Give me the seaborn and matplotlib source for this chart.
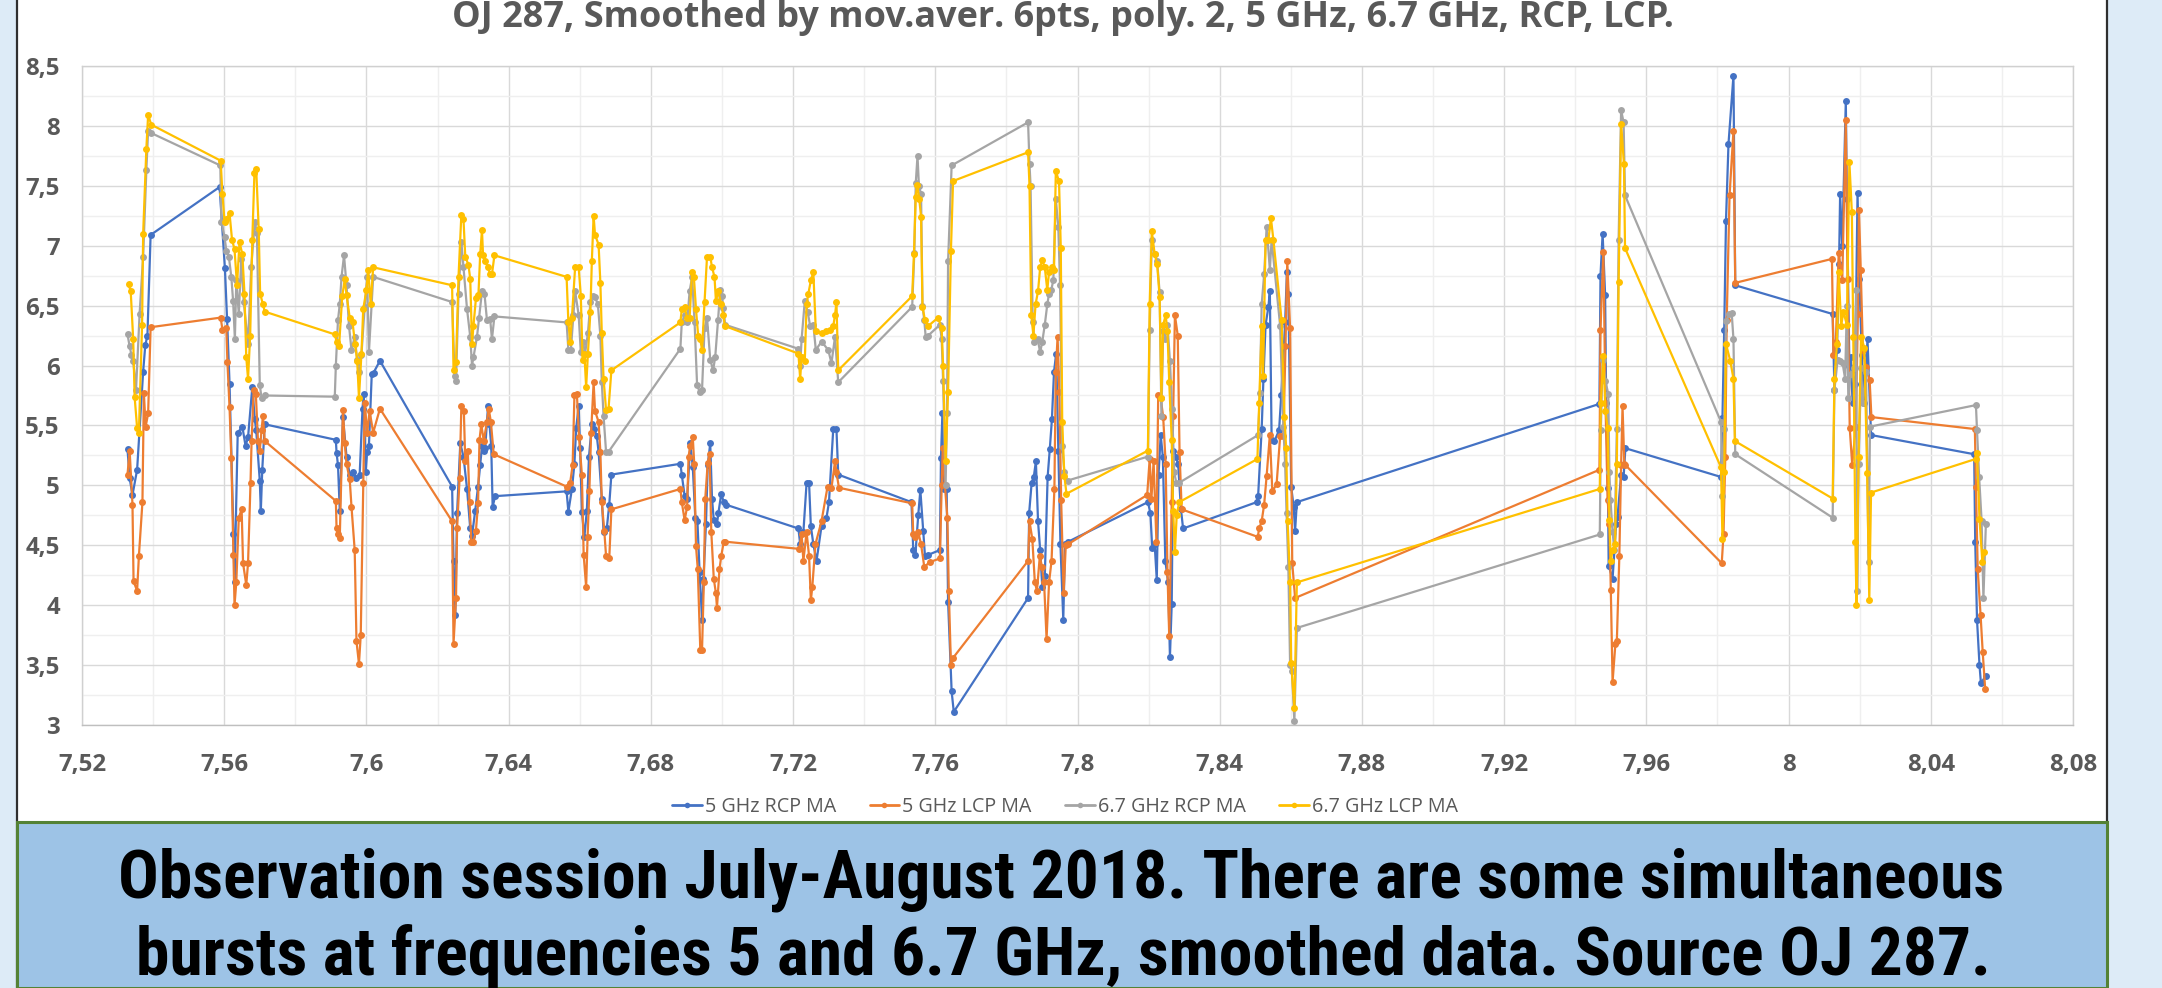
import matplotlib
matplotlib.use("Agg")
import matplotlib.pyplot as plt
import seaborn as sns
import pandas as pd
from matplotlib import font_manager
from matplotlib.font_manager import FontProperties
from matplotlib.lines import Line2D
from matplotlib.patches import Rectangle

# ---------------- data ----------------
series_names = ["5 GHz RCP MA", "5 GHz LCP MA", "6.7 GHz RCP MA", "6.7 GHz LCP MA"]
series_colors = ["#4472C4", "#ED7D31", "#A5A5A5", "#FFC000"]

rcp5_x = [7.5328, 7.5334, 7.5342, 7.5355, 7.5372, 7.5378, 7.5384, 7.5393,
          7.5587, 7.5602, 7.5608, 7.5615, 7.5626, 7.5629, 7.5638, 7.5651, 7.5660, 7.5667, 7.5679, 7.5686, 7.5690, 7.5700, 7.5703, 7.5707, 7.5714,
          7.5914, 7.5916, 7.5920, 7.5925, 7.5934, 7.5944, 7.5953, 7.5963, 7.5972, 7.5981, 7.5989, 7.5992, 7.5998, 7.6002, 7.6007, 7.6015, 7.6020, 7.6038,
          7.6241, 7.6245, 7.6250, 7.6255, 7.6264, 7.6273, 7.6283, 7.6292, 7.6297, 7.6306, 7.6314, 7.6320, 7.6325, 7.6330, 7.6334, 7.6342, 7.6346, 7.6351, 7.6355, 7.6362,
          7.6563, 7.6568, 7.6578, 7.6585, 7.6590, 7.6597, 7.6601, 7.6606, 7.6613, 7.6620, 7.6626, 7.6634, 7.6641, 7.6648, 7.6653, 7.6662, 7.6667, 7.6676, 7.6683, 7.6689,
          7.6883, 7.6887, 7.6895, 7.6902, 7.6911, 7.6918, 7.6925, 7.6931, 7.6937, 7.6944, 7.6948, 7.6955, 7.6960, 7.6967, 7.6972, 7.6977, 7.6986, 7.6990, 7.6998, 7.7005, 7.7010,
          7.7215, 7.7220, 7.7229, 7.7238, 7.7245, 7.7250, 7.7257, 7.7266, 7.7280, 7.7294, 7.7301, 7.7313, 7.7322, 7.7327,
          7.7533, 7.7538, 7.7544, 7.7552, 7.7558, 7.7566, 7.7571, 7.7580, 7.7613, 7.7616, 7.7620, 7.7625, 7.7632, 7.7636, 7.7646, 7.7652,
          7.7861, 7.7864, 7.7871, 7.7877, 7.7883, 7.7889, 7.7895, 7.7901, 7.7908, 7.7916, 7.7922, 7.7928, 7.7934, 7.7940, 7.7946, 7.7952, 7.7960, 7.7965, 7.7974,
          7.8198, 7.8205, 7.8210, 7.8217, 7.8223, 7.8228, 7.8234, 7.8240, 7.8247, 7.8255, 7.8260, 7.8265, 7.8269, 7.8276, 7.8283, 7.8291, 7.8297,
          7.8504, 7.8508, 7.8518, 7.8523, 7.8529, 7.8537, 7.8541, 7.8546, 7.8554, 7.8567, 7.8573, 7.8584, 7.8589, 7.8593, 7.8601, 7.8608, 7.8612, 7.8617,
          7.9468, 7.9471, 7.9477, 7.9484, 7.9487, 7.9492, 7.9494, 7.9505, 7.9515, 7.9519, 7.9529, 7.9536, 7.9541,
          7.9810, 7.9814, 7.9819, 7.9824, 7.9831, 7.9845, 7.9850,
          8.0124, 8.0129, 8.0136, 8.0142, 8.0145, 8.0151, 8.0161, 8.0164, 8.0171, 8.0175, 8.0180, 8.0187, 8.0194, 8.0199, 8.0206, 8.0213, 8.0222, 8.0232,
          8.0522, 8.0525, 8.0530, 8.0537, 8.0541, 8.0555]
rcp5_y = [5.30, 5.06, 4.92, 5.13, 5.95, 6.17, 6.25, 7.09,
          7.49, 6.81, 6.39, 5.85, 4.59, 4.19, 5.44, 5.49, 5.33, 5.40, 5.82, 5.55, 5.46, 5.04, 4.79, 5.13, 5.51,
          5.38, 5.27, 5.17, 4.79, 5.57, 5.24, 5.09, 5.11, 5.06, 5.09, 5.64, 5.76, 5.11, 5.28, 5.33, 5.93, 5.94, 6.04,
          4.99, 4.37, 3.92, 4.77, 5.35, 5.24, 4.97, 4.64, 4.58, 4.79, 4.99, 5.17, 5.33, 5.29, 5.31, 5.66, 5.51, 5.33, 4.82, 4.91,
          4.95, 4.78, 4.97, 5.18, 5.48, 5.66, 5.31, 4.78, 4.57, 4.79, 5.24, 5.51, 5.47, 5.41, 5.28, 4.89, 4.61, 4.64, 4.84, 5.09,
          5.18, 5.09, 4.91, 4.89, 5.35, 5.15, 4.73, 4.70, 4.28, 3.88, 4.22, 4.68, 5.17, 5.35, 4.89, 4.71, 4.68, 4.77, 4.93, 4.86, 4.84,
          4.64, 4.51, 4.61, 5.02, 5.02, 4.66, 4.51, 4.37, 4.66, 4.73, 4.86, 5.47, 5.47, 5.09,
          4.86, 4.46, 4.42, 4.75, 4.96, 4.62, 4.41, 4.42, 4.46, 5.23, 5.60, 4.97, 4.97, 4.03, 3.28, 3.11,
          4.06, 4.77, 5.02, 5.07, 5.20, 4.70, 4.46, 4.15, 4.24, 5.07, 5.30, 5.55, 5.95, 6.10, 5.29, 4.51, 3.88, 4.51, 4.53,
          4.86, 4.77, 4.48, 4.51, 4.21, 5.09, 5.42, 5.24, 4.37, 4.19, 3.57, 4.01, 5.29, 5.24, 5.18, 4.80, 4.64,
          4.86, 4.91, 5.47, 5.89, 6.34, 6.49, 6.62, 5.38, 5.37, 5.46, 5.75, 6.36, 6.78, 6.60, 4.99, 4.82, 4.62, 4.86,
          5.68, 6.75, 7.10, 6.59, 5.69, 4.98, 4.33, 4.22, 4.68, 4.74, 5.09, 5.07, 5.31,
          5.07, 5.56, 6.30, 7.21, 7.85, 8.42, 6.67,
          6.43, 5.80, 6.13, 6.85, 7.43, 7.00, 8.21, 7.39, 6.00, 6.07, 5.69, 5.85, 7.44, 6.72, 6.09, 5.69, 6.22, 5.42,
          5.26, 4.53, 3.88, 3.50, 3.35, 3.41]

lcp5_x = [7.5328, 7.5334, 7.5342, 7.5345, 7.5355, 7.5360, 7.5370, 7.5374, 7.5379, 7.5386, 7.5393,
          7.5590, 7.5595, 7.5606, 7.5609, 7.5615, 7.5620, 7.5626, 7.5629, 7.5634, 7.5641, 7.5649, 7.5653, 7.5662, 7.5667, 7.5674, 7.5677, 7.5683, 7.5689, 7.5695, 7.5700, 7.5705, 7.5709, 7.5714,
          7.5914, 7.5916, 7.5920, 7.5925, 7.5934, 7.5939, 7.5944, 7.5953, 7.5958, 7.5967, 7.5972, 7.5979, 7.5984, 7.5991, 7.5995, 7.6002, 7.6009, 7.6019, 7.6038,
          7.6241, 7.6245, 7.6252, 7.6255, 7.6262, 7.6267, 7.6274, 7.6278, 7.6285, 7.6290, 7.6295, 7.6301, 7.6308, 7.6314, 7.6318, 7.6323, 7.6330, 7.6339, 7.6344, 7.6350, 7.6358,
          7.6563, 7.6573, 7.6580, 7.6585, 7.6592, 7.6598, 7.6606, 7.6611, 7.6618, 7.6622, 7.6627, 7.6632, 7.6639, 7.6643, 7.6653, 7.6658, 7.6662, 7.6669, 7.6674, 7.6683, 7.6689,
          7.6883, 7.6887, 7.6895, 7.6902, 7.6906, 7.6911, 7.6918, 7.6922, 7.6927, 7.6932, 7.6939, 7.6944, 7.6949, 7.6953, 7.6960, 7.6965, 7.6970, 7.6977, 7.6983, 7.6986, 7.6993, 7.6998, 7.7005, 7.7009,
          7.7217, 7.7224, 7.7229, 7.7238, 7.7245, 7.7250, 7.7254, 7.7263, 7.7280, 7.7297, 7.7308, 7.7318, 7.7322, 7.7329,
          7.7535, 7.7538, 7.7544, 7.7552, 7.7560, 7.7569, 7.7585, 7.7613, 7.7618, 7.7621, 7.7627, 7.7634, 7.7638, 7.7644, 7.7650,
          7.7861, 7.7865, 7.7873, 7.7880, 7.7886, 7.7894, 7.7900, 7.7906, 7.7913, 7.7920, 7.7927, 7.7935, 7.7939, 7.7944, 7.7949, 7.7954, 7.7961, 7.7967, 7.7974,
          7.8196, 7.8203, 7.8208, 7.8214, 7.8222, 7.8227, 7.8234, 7.8241, 7.8248, 7.8253, 7.8258, 7.8265, 7.8269, 7.8274, 7.8282, 7.8287, 7.8293,
          7.8507, 7.8511, 7.8518, 7.8525, 7.8532, 7.8541, 7.8548, 7.8560, 7.8570, 7.8579, 7.8585, 7.8590, 7.8598, 7.8604, 7.8612,
          7.9468, 7.9471, 7.9479, 7.9485, 7.9491, 7.9496, 7.9500, 7.9505, 7.9513, 7.9517, 7.9524, 7.9529, 7.9533, 7.9538, 7.9541,
          7.9812, 7.9817, 7.9822, 7.9826, 7.9834, 7.9845, 7.9850,
          8.0122, 8.0126, 8.0133, 8.0141, 8.0151, 8.0161, 8.0166, 8.0172, 8.0179, 8.0189, 8.0195, 8.0198, 8.0203, 8.0209, 8.0217, 8.0228, 8.0233,
          8.0524, 8.0527, 8.0532, 8.0540, 8.0546, 8.0553]
lcp5_y = [5.09, 5.29, 4.84, 4.20, 4.12, 4.41, 4.86, 5.77, 5.49, 5.60, 6.32,
          6.40, 6.30, 6.31, 6.03, 5.65, 5.23, 4.42, 4.00, 4.19, 4.73, 4.80, 4.35, 4.17, 4.35, 5.02, 5.37, 5.80, 5.76, 5.37, 5.29, 5.46, 5.58, 5.37,
          4.87, 4.64, 4.59, 4.56, 5.63, 5.35, 5.18, 5.05, 4.82, 4.46, 3.70, 3.51, 3.75, 5.02, 5.69, 5.44, 5.62, 5.44, 5.64,
          4.70, 3.68, 4.06, 4.64, 5.06, 5.66, 5.62, 5.20, 5.29, 4.86, 4.53, 4.53, 4.62, 4.85, 5.38, 5.51, 5.37, 5.53, 5.64, 5.53, 5.26,
          4.99, 5.02, 5.17, 5.75, 5.76, 5.40, 5.09, 4.42, 4.15, 4.57, 4.95, 5.44, 5.86, 5.62, 5.53, 5.28, 4.86, 4.62, 4.41, 4.39, 4.80,
          4.97, 4.86, 4.71, 4.82, 5.24, 5.33, 5.40, 5.18, 4.49, 4.30, 3.63, 3.63, 4.19, 4.89, 5.19, 5.26, 4.61, 4.22, 4.10, 3.98, 4.30, 4.41, 4.53, 4.53,
          4.47, 4.59, 4.37, 4.61, 4.41, 4.04, 4.15, 4.51, 4.70, 4.99, 4.98, 5.20, 5.11, 4.98,
          4.85, 4.59, 4.57, 4.61, 4.51, 4.32, 4.36, 4.39, 5.00, 5.31, 5.00, 4.73, 4.12, 3.50, 3.56,
          4.37, 4.70, 4.55, 4.19, 4.12, 4.41, 4.32, 4.19, 3.72, 4.19, 4.37, 4.97, 5.95, 6.24, 5.78, 4.88, 4.10, 4.50, 4.51,
          4.92, 5.22, 4.89, 5.20, 4.53, 5.75, 5.73, 5.57, 5.18, 4.28, 3.74, 4.86, 5.58, 6.42, 6.25, 5.28, 4.80,
          4.57, 4.64, 4.70, 4.84, 5.08, 5.42, 4.95, 5.01, 5.41, 5.41, 6.16, 6.87, 6.31, 4.35, 4.06,
          5.13, 6.30, 6.95, 5.69, 4.88, 4.68, 4.13, 3.36, 3.68, 3.70, 4.41, 5.17, 5.66, 5.18, 5.17,
          4.35, 4.59, 5.24, 6.38, 7.42, 7.96, 6.69,
          6.89, 6.09, 6.20, 6.94, 6.71, 8.05, 6.72, 5.48, 5.17, 5.49, 6.43, 7.30, 6.80, 6.13, 5.99, 5.88, 5.57,
          5.47, 4.99, 4.30, 3.92, 3.61, 3.30]

rcp67_x = [7.5328, 7.5334, 7.5339, 7.5344, 7.5352, 7.5362, 7.5372, 7.5381, 7.5386, 7.5395,
           7.5589, 7.5592, 7.5601, 7.5606, 7.5613, 7.5620, 7.5625, 7.5630, 7.5634, 7.5641, 7.5648, 7.5655, 7.5667, 7.5676, 7.5686, 7.5692, 7.5700, 7.5705, 7.5714,
           7.5911, 7.5914, 7.5920, 7.5925, 7.5930, 7.5937, 7.5944, 7.5951, 7.5958, 7.5967, 7.5974, 7.5979, 7.5986, 7.5995, 7.6002, 7.6007, 7.6019,
           7.6241, 7.6248, 7.6252, 7.6259, 7.6267, 7.6273, 7.6283, 7.6292, 7.6297, 7.6301, 7.6311, 7.6317, 7.6325, 7.6332, 7.6339, 7.6348, 7.6353, 7.6360,
           7.6563, 7.6568, 7.6575, 7.6582, 7.6587, 7.6597, 7.6603, 7.6609, 7.6615, 7.6623, 7.6630, 7.6636, 7.6643, 7.6651, 7.6658, 7.6662, 7.6667, 7.6674, 7.6681,
           7.6883, 7.6887, 7.6895, 7.6902, 7.6909, 7.6916, 7.6923, 7.6930, 7.6937, 7.6944, 7.6951, 7.6958, 7.6967, 7.6975, 7.6981, 7.6989, 7.6995, 7.7000, 7.7004, 7.7009,
           7.7215, 7.7220, 7.7224, 7.7233, 7.7241, 7.7248, 7.7257, 7.7264, 7.7280, 7.7299, 7.7308, 7.7318, 7.7327,
           7.7535, 7.7541, 7.7545, 7.7550, 7.7554, 7.7560, 7.7564, 7.7569, 7.7573, 7.7580, 7.7613, 7.7618, 7.7622, 7.7629, 7.7633, 7.7636, 7.7646,
           7.7861, 7.7865, 7.7868, 7.7874, 7.7879, 7.7888, 7.7895, 7.7901, 7.7908, 7.7915, 7.7920, 7.7926, 7.7932, 7.7939, 7.7946, 7.7951, 7.7957, 7.7963, 7.7972,
           7.8198, 7.8203, 7.8209, 7.8217, 7.8224, 7.8231, 7.8236, 7.8241, 7.8246, 7.8253, 7.8260, 7.8266, 7.8272, 7.8278, 7.8285,
           7.8508, 7.8513, 7.8518, 7.8525, 7.8532, 7.8541, 7.8546, 7.8570, 7.8579, 7.8584, 7.8588, 7.8593, 7.8598, 7.8603, 7.8610, 7.8617,
           7.9469, 7.9472, 7.9477, 7.9485, 7.9493, 7.9496, 7.9499, 7.9505, 7.9510, 7.9517, 7.9522, 7.9529, 7.9536, 7.9540,
           7.9810, 7.9814, 7.9819, 7.9824, 7.9833, 7.9840, 7.9845, 7.9850,
           8.0124, 8.0129, 8.0138, 8.0145, 8.0152, 8.0159, 8.0164, 8.0168, 8.0175, 8.0185, 8.0190, 8.0193, 8.0197, 8.0204, 8.0208, 8.0218, 8.0225, 8.0229,
           8.0527, 8.0530, 8.0536, 8.0543, 8.0548, 8.0555]
rcp67_y = [6.26, 6.16, 6.09, 6.04, 5.80, 6.43, 6.91, 7.63, 7.96, 7.94,
           7.67, 7.20, 7.07, 6.96, 6.91, 6.74, 6.54, 6.22, 6.71, 6.43, 6.89, 6.53, 6.18, 6.82, 7.20, 7.11, 5.84, 5.73, 5.75,
           5.74, 6.00, 6.38, 6.51, 6.74, 6.92, 6.67, 6.33, 6.13, 6.24, 6.05, 5.95, 6.09, 6.49, 6.74, 6.11, 6.74,
           6.53, 5.91, 5.87, 6.60, 7.03, 6.82, 6.47, 6.24, 6.00, 6.07, 6.24, 6.40, 6.62, 6.60, 6.38, 6.39, 6.22, 6.41,
           6.36, 6.13, 6.13, 6.42, 6.62, 6.42, 6.11, 6.20, 6.10, 6.27, 6.53, 6.58, 6.57, 6.51, 6.25, 5.86, 5.58, 5.28, 5.28,
           6.14, 6.36, 6.42, 6.36, 6.62, 6.74, 6.36, 5.84, 5.78, 5.80, 6.31, 6.40, 6.05, 5.96, 6.07, 6.38, 6.63, 6.58, 6.48, 6.34,
           6.14, 6.00, 6.22, 6.54, 6.45, 6.33, 6.34, 6.13, 6.20, 6.13, 6.02, 6.24, 5.86,
           6.49, 6.94, 7.52, 7.75, 7.50, 7.43, 6.50, 6.38, 6.24, 6.25, 6.34, 6.22, 5.87, 5.00, 5.60, 6.87, 7.67,
           8.03, 7.68, 7.50, 6.36, 6.20, 6.22, 6.11, 6.20, 6.34, 6.51, 6.60, 6.63, 6.71, 7.39, 7.16, 6.67, 5.33, 5.11, 5.04,
           5.24, 6.30, 7.05, 6.93, 6.87, 6.61, 5.58, 6.29, 6.22, 6.34, 6.04, 5.64, 5.11, 5.02, 5.02,
           5.42, 5.77, 6.51, 6.76, 7.16, 6.80, 7.05, 6.33, 5.49, 5.18, 4.77, 4.32, 3.50, 3.45, 3.03, 3.81,
           4.59, 5.46, 6.05, 5.87, 5.76, 5.11, 4.88, 4.61, 4.46, 5.47, 7.05, 8.13, 8.03, 7.42,
           5.53, 4.91, 5.47, 6.37, 6.43, 6.44, 6.22, 5.26,
           4.73, 5.80, 6.05, 6.04, 6.02, 5.89, 6.50, 5.73, 5.93, 5.98, 6.63, 4.12, 5.18, 5.98, 5.69, 5.95, 4.36, 5.49,
           5.67, 5.46, 5.07, 4.70, 4.06, 4.68]

lcp67_x = [7.5331, 7.5337, 7.5344, 7.5348, 7.5355, 7.5360, 7.5369, 7.5372, 7.5381, 7.5386, 7.5395,
           7.5590, 7.5595, 7.5601, 7.5606, 7.5615, 7.5622, 7.5629, 7.5636, 7.5643, 7.5651, 7.5657, 7.5662, 7.5667, 7.5673, 7.5679, 7.5685, 7.5690, 7.5697, 7.5701, 7.5709, 7.5714,
           7.5911, 7.5916, 7.5923, 7.5932, 7.5939, 7.5944, 7.5953, 7.5961, 7.5968, 7.5974, 7.5979, 7.5986, 7.5991, 7.6000, 7.6005, 7.6012, 7.6019,
           7.6241, 7.6245, 7.6252, 7.6259, 7.6267, 7.6273, 7.6278, 7.6287, 7.6292, 7.6297, 7.6301, 7.6308, 7.6315, 7.6320, 7.6325, 7.6328, 7.6334, 7.6342, 7.6348, 7.6353, 7.6360,
           7.6563, 7.6568, 7.6573, 7.6578, 7.6587, 7.6597, 7.6603, 7.6608, 7.6613, 7.6618, 7.6623, 7.6630, 7.6634, 7.6639, 7.6643, 7.6653, 7.6658, 7.6662, 7.6667, 7.6674, 7.6681, 7.6689,
           7.6883, 7.6887, 7.6895, 7.6902, 7.6909, 7.6916, 7.6921, 7.6927, 7.6933, 7.6939, 7.6944, 7.6951, 7.6958, 7.6967, 7.6972, 7.6979, 7.6983, 7.6990, 7.6998, 7.7004, 7.7008,
           7.7215, 7.7220, 7.7224, 7.7233, 7.7238, 7.7243, 7.7250, 7.7257, 7.7264, 7.7280, 7.7294, 7.7304, 7.7313, 7.7318, 7.7322, 7.7327,
           7.7535, 7.7540, 7.7545, 7.7549, 7.7555, 7.7560, 7.7564, 7.7571, 7.7580, 7.7608, 7.7618, 7.7622, 7.7629, 7.7636, 7.7644, 7.7650,
           7.7861, 7.7865, 7.7870, 7.7876, 7.7882, 7.7889, 7.7895, 7.7901, 7.7908, 7.7915, 7.7920, 7.7927, 7.7934, 7.7939, 7.7948, 7.7953, 7.7957, 7.7963, 7.7969,
           7.8198, 7.8203, 7.8209, 7.8217, 7.8224, 7.8231, 7.8236, 7.8241, 7.8248, 7.8253, 7.8258, 7.8265, 7.8269, 7.8274, 7.8279, 7.8286,
           7.8506, 7.8511, 7.8518, 7.8522, 7.8529, 7.8537, 7.8544, 7.8551, 7.8574, 7.8582, 7.8587, 7.8591, 7.8598, 7.8601, 7.8610, 7.8617,
           7.9469, 7.9472, 7.9479, 7.9485, 7.9491, 7.9496, 7.9500, 7.9505, 7.9512, 7.9517, 7.9522, 7.9529, 7.9537, 7.9540,
           7.9810, 7.9814, 7.9819, 7.9824, 7.9836, 7.9845, 7.9849,
           8.0124, 8.0129, 8.0136, 8.0141, 8.0148, 8.0154, 8.0164, 8.0171, 8.0178, 8.0182, 8.0188, 8.0191, 8.0197, 8.0204, 8.0213, 8.0221, 8.0227, 8.0232,
           8.0526, 8.0530, 8.0537, 8.0545, 8.0551]
lcp67_y = [6.68, 6.62, 6.22, 5.74, 5.48, 5.44, 6.34, 7.10, 7.81, 8.09, 8.01,
           7.71, 7.43, 7.20, 7.22, 7.27, 7.05, 6.97, 6.67, 7.03, 6.93, 6.60, 6.07, 5.89, 6.25, 7.05, 7.61, 7.64, 7.14, 6.60, 6.51, 6.45,
           6.26, 6.20, 6.16, 6.58, 6.72, 6.59, 6.40, 6.36, 6.18, 6.04, 5.73, 6.10, 6.47, 6.63, 6.80, 6.51, 6.82,
           6.67, 5.96, 6.03, 6.74, 7.26, 7.22, 6.91, 6.84, 6.72, 6.18, 6.33, 6.56, 6.59, 6.93, 7.13, 6.92, 6.87, 6.82, 6.76, 6.76, 6.92,
           6.74, 6.36, 6.20, 6.40, 6.82, 6.82, 6.58, 6.05, 6.10, 5.82, 6.10, 6.45, 6.87, 7.25, 7.09, 7.01, 6.69, 6.27, 5.89, 5.63, 5.64, 5.96,
           6.36, 6.47, 6.49, 6.40, 6.40, 6.78, 6.74, 6.47, 6.25, 6.22, 6.13, 6.53, 6.91, 6.91, 6.82, 6.74, 6.54, 6.62, 6.51, 6.42, 6.33,
           6.10, 5.89, 6.07, 6.04, 6.51, 6.60, 6.71, 6.78, 6.29, 6.27, 6.29, 6.30, 6.33, 6.42, 6.53, 5.96,
           6.58, 6.93, 7.41, 7.51, 7.39, 7.24, 6.49, 6.38, 6.33, 6.40, 6.31, 6.00, 5.20, 5.78, 6.96, 7.54,
           7.78, 7.50, 6.42, 6.25, 6.51, 6.62, 6.82, 6.88, 6.82, 6.63, 6.78, 6.82, 6.80, 7.62, 7.54, 6.98, 5.53, 5.08, 4.93,
           5.29, 6.51, 7.12, 6.93, 6.85, 6.57, 5.73, 6.34, 6.42, 6.29, 5.86, 5.38, 4.79, 4.44, 4.75, 4.86,
           5.22, 5.69, 6.33, 5.91, 7.05, 7.05, 7.23, 7.05, 6.38, 5.57, 5.31, 4.70, 4.19, 3.52, 3.14, 4.19,
           4.97, 5.69, 6.08, 5.62, 5.48, 4.71, 4.37, 4.46, 4.51, 5.18, 6.70, 8.02, 7.68, 6.98,
           5.15, 4.55, 5.11, 6.18, 6.04, 5.89, 5.37,
           4.89, 5.89, 6.18, 6.78, 6.33, 6.45, 6.34, 7.70, 7.28, 6.24, 4.53, 4.00, 5.24, 6.24, 6.15, 5.10, 4.04, 4.94,
           5.22, 5.27, 4.72, 4.36, 4.44]

x_ticks = [7.52, 7.56, 7.60, 7.64, 7.68, 7.72, 7.76, 7.80, 7.84, 7.88, 7.92, 7.96, 8.00, 8.04, 8.08]
x_tick_labels = ["7,52", "7,56", "7,6", "7,64", "7,68", "7,72", "7,76", "7,8",
                 "7,84", "7,88", "7,92", "7,96", "8", "8,04", "8,08"]
y_ticks = [3.0, 3.5, 4.0, 4.5, 5.0, 5.5, 6.0, 6.5, 7.0, 7.5, 8.0, 8.5]
y_tick_labels = ["3", "3,5", "4", "4,5", "5", "5,5", "6", "6,5", "7", "7,5", "8", "8,5"]

title_text = "OJ 287, Smoothed by mov.aver. 6pts, poly. 2, 5 GHz, 6.7 GHz, RCP, LCP."
caption_lines = ["Observation session July-August 2018. There are some simultaneous",
                 "bursts at frequencies 5 and 6.7 GHz, smoothed data. Source OJ 287."]

# ---------------- build table ----------------
frames = []
for name, xs, ys in zip(series_names, [rcp5_x, lcp5_x, rcp67_x, lcp67_x],
                        [rcp5_y, lcp5_y, rcp67_y, lcp67_y]):
    n = min(len(xs), len(ys))
    frames.append(pd.DataFrame({"x": xs[:n], "y": ys[:n], "series": name}))
df = pd.concat(frames, ignore_index=True)

# ---------------- figure ----------------
sns.set_theme(style="white")
plt.rcParams["font.family"] = ["Open Sans", "DejaVu Sans"]

W, H = 2162, 988
fig = plt.figure(figsize=(W / 100, H / 100), dpi=100)
fig.patch.set_facecolor("#DDEBF7")


def fx(px):
    return px / W


def fy(py):
    return 1 - py / H


fig.add_artist(Rectangle((fx(17), 0), fx(2107) - fx(17), 1, transform=fig.transFigure,
                         facecolor="white", edgecolor="none", zorder=0))
for xe in (17, 2107):
    fig.add_artist(Line2D([fx(xe), fx(xe)], [0, 1], transform=fig.transFigure,
                          color="#2F2F2F", lw=1.6, zorder=1))
fig.add_artist(Rectangle((fx(17), 0), fx(2107) - fx(17), fy(822), transform=fig.transFigure,
                         facecolor="#9DC3E6", edgecolor="#548235", lw=2.2, zorder=2))

ax = fig.add_axes([fx(82), fy(725), fx(2073) - fx(82), (725 - 66) / H])
ax.set_facecolor("white")

sns.lineplot(data=df, x="x", y="y", hue="series", hue_order=series_names,
             palette=series_colors, sort=False, estimator=None, marker="o",
             markersize=5.0, markeredgewidth=0, linewidth=1.6, legend=False, ax=ax)

ax.set_xlim(7.52, 8.08)
ax.set_ylim(3, 8.5)
ax.set_xticks(x_ticks)
ax.set_xticklabels(x_tick_labels)
ax.set_xticks([t + 0.02 for t in x_ticks[:-1]], minor=True)
ax.set_yticks(y_ticks)
ax.set_yticklabels(y_tick_labels)
ax.set_yticks([t + 0.25 for t in y_ticks[:-1]], minor=True)
ax.set_xlabel("")
ax.set_ylabel("")
ax.set_axisbelow(True)
ax.grid(which="major", color="#D9D9D9", lw=1.0)
ax.grid(which="minor", color="#EFEFEF", lw=1.0)
ax.tick_params(axis="both", which="both", length=0)
ax.tick_params(axis="y", pad=16)
ax.tick_params(axis="x", pad=20)
for lab in ax.get_xticklabels() + ax.get_yticklabels():
    lab.set_fontweight("bold")
    lab.set_fontsize(17.3)
    lab.set_color("#595959")
for s in ax.spines.values():
    s.set_color("#D0D0D0")
    s.set_linewidth(1.0)
ax.spines["bottom"].set_color("#BFBFBF")

renderer = fig.canvas.get_renderer()


def fit_width(t, target):
    w = t.get_window_extent(renderer).width
    t.set_fontsize(t.get_fontsize() * target / w)


title = fig.text(fx(1063), fy(27), title_text, ha="center", va="baseline",
                 fontweight="bold", color="#595959", fontsize=20)
fit_width(title, 1223)

handles = [Line2D([], [], color=c, lw=2, marker="o", markersize=4, markeredgewidth=0)
           for c in series_colors]
fig.legend(handles, series_names, loc="center", bbox_to_anchor=(fx(1065), fy(807)),
           ncol=4, frameon=False, prop={"size": 14.2}, handlelength=1.5,
           handletextpad=0.15, columnspacing=1.7, labelcolor="#595959")


# caption font: prefer a narrow/condensed bold face (Calibri-like look)
def find_narrow():
    candidates = [("Liberation Sans Narrow", "normal"), ("Roboto Condensed", "normal"),
                  ("Open Sans Condensed", "normal"), ("Open Sans", "condensed"),
                  ("Roboto", "condensed"), ("Noto Sans", "condensed"),
                  ("DejaVu Sans", "condensed")]
    for fam, stretch in candidates:
        try:
            fp = FontProperties(family=fam, weight="bold", stretch=stretch)
            path = font_manager.findfont(fp, fallback_to_default=False)
        except Exception:
            continue
        low = path.lower()
        if "narrow" in low or "condensed" in low or "cond" in low:
            return fam, stretch
    return "Liberation Sans", "normal"


box_family, box_stretch = find_narrow()
t1 = fig.text(fx(1061), fy(897), caption_lines[0], ha="center", va="baseline",
              fontweight="bold", color="black", family=[box_family, "DejaVu Sans"],
              fontstretch=box_stretch, fontsize=46, zorder=5)
fit_width(t1, 1884)
t2 = fig.text(fx(1063), fy(975), caption_lines[1], ha="center", va="baseline",
              fontweight="bold", color="black", family=[box_family, "DejaVu Sans"],
              fontstretch=box_stretch, fontsize=t1.get_fontsize(), zorder=5)

fig.savefig("out.png", dpi=100, facecolor=fig.get_facecolor())
